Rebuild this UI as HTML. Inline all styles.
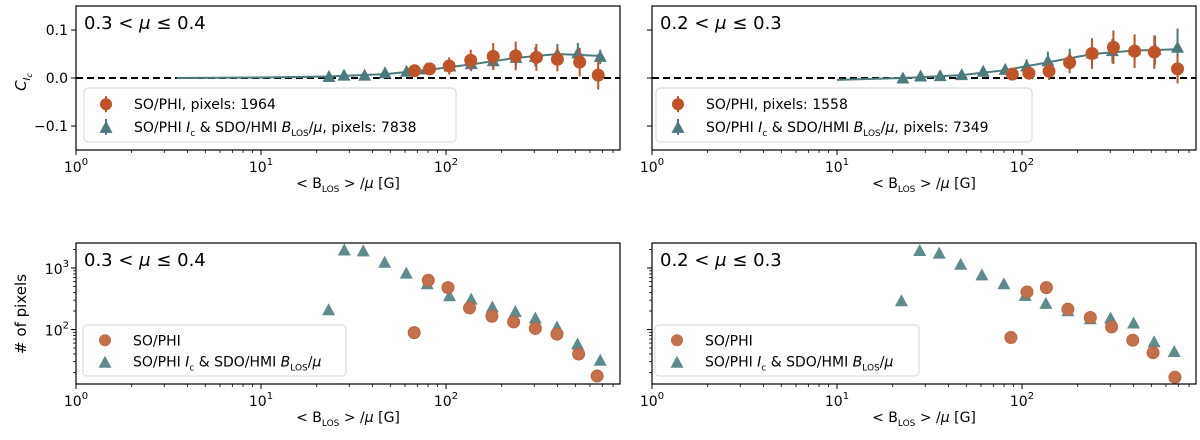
<!DOCTYPE html>
<html><head><meta charset="utf-8"><style>
body{margin:0;background:#fff;font-family:"Liberation Sans","DejaVu Sans",sans-serif}
svg text{font-family:"DejaVu Sans","Liberation Sans",sans-serif;fill:#000}
</style></head><body>
<svg id="fig" width="1200" height="435" xmlns="http://www.w3.org/2000/svg"></svg>
<script>
const tlTriX=[23.3,28.1,36.3,46.8,61.2,78.3,105,137,180,239,304,400,516,682];
const tlTriY=[0.002,0.005,0.005,0.010,0.013,0.018,0.024,0.029,0.035,0.042,0.044,0.049,0.051,0.044];
const tlTriE=[0.004,0.005,0.006,0.006,0.008,0.010,0.012,0.015,0.018,0.020,0.020,0.022,0.022,0.015];
const tlCirX=[67.6,81.5,104,136,180,238,308,400,528,665];
const tlCirY=[0.015,0.019,0.025,0.037,0.045,0.046,0.043,0.039,0.033,0.006];
const tlCirE=[0.008,0.012,0.018,0.022,0.028,0.03,0.028,0.025,0.03,0.03];
const tlLineX=[3.5,10,23,47,80,140,240,400,680];
const tlLineY=[0.000,0.001,0.003,0.008,0.017,0.029,0.042,0.050,0.046];

const trTriX=[22.7,28.3,36.1,47.2,61.7,81.1,106,138,181,239,308,406,524,693];
const trTriY=[-0.001,0.003,0.004,0.006,0.013,0.017,0.024,0.035,0.039,0.051,0.056,0.058,0.058,0.063];
const trTriE=[0.004,0.005,0.005,0.006,0.008,0.010,0.015,0.020,0.022,0.025,0.025,0.025,0.03,0.04];
const trCirX=[88.7,109,140,181,239,312,406,519,693];
const trCirY=[0.008,0.010,0.014,0.032,0.051,0.064,0.056,0.054,0.019];
const trCirE=[0.008,0.012,0.018,0.022,0.032,0.035,0.035,0.035,0.03];
const trLineX=[10,23,47,80,140,240,400,690];
const trLineY=[-0.004,0.0,0.006,0.016,0.033,0.050,0.057,0.060];

const blTriX=[23.2,28.2,35.7,46.6,61.0,79.1,104.5,136.8,178,237,304,398,514,682];
const blTriY=[206,1930,1860,1220,810,543,348,306,228,193,151,108,57,31];
const blCirX=[67.3,80.2,102.5,134,177,232,304,398,521,656];
const blCirY=[89,631,480,224,164,133,104,84,40,17.5];

const brTriX=[22.3,28.0,35.7,46.6,60.7,79.8,104,134.6,177,234,301,401,518,665];
const brTriY=[288,1890,1710,1130,760,543,351,261,198,147,151,125,62,43];
const brCirX=[87.1,106.4,135.5,177,234,305,397,511,671];
const brCirY=[74,408,480,214,157,110,67,42,16.7];

const NS="http://www.w3.org/2000/svg";
const svg=document.getElementById('fig');
function el(tag,attrs,parent){const e=document.createElementNS(NS,tag);for(const k in attrs)e.setAttribute(k,attrs[k]);(parent||svg).appendChild(e);return e;}
function txt(x,y,s,size,anchor,parent,name){const t=el('text',{x:x,y:y,'font-size':size,'text-anchor':anchor||'middle'},parent);t.innerHTML=s;


return t;}

const OR='#bf5428', TE='#4b7a7f', ORl='#c4704a', TEl='#5e8b8f';
const DEC=185;

function panel(id,left,top,bottom,opts){
  const g=el('g',{});
  
  
  const right=left+544;
  const xs=v=>left+Math.log10(v)*DEC;
  let ys;
  if(opts.log){ ys=v=>opts.y3+(3-Math.log10(v))*61.5; }
  else { ys=v=>opts.y0-v*480; }
  for(let d=0;d<3;d++){
    const X=left+d*DEC;
    el('line',{x1:X,y1:bottom,x2:X,y2:bottom+5,stroke:'#000','stroke-width':1},g);
    txt(X,bottom+22,'10<tspan dy="-7" font-size="10">'+d+'</tspan>',14,'middle',g,'x-tick-label');
    for(let m=2;m<=9;m++){const Xm=X+Math.log10(m)*DEC; if(Xm<right) el('line',{x1:Xm,y1:bottom,x2:Xm,y2:bottom+3,stroke:'#000','stroke-width':0.8},g);}
  }
  txt((left+right)/2,bottom+38,'&lt; B<tspan font-size="9" dy="4">LOS</tspan><tspan dy="-4"> &gt; /</tspan><tspan font-style="italic">μ</tspan> [G]',14,'middle',g,'x-axis-title');
  if(opts.log){
    [2,3].forEach(p=>{const Y=ys(Math.pow(10,p));el('line',{x1:left-5,y1:Y,x2:left,y2:Y,stroke:'#000'},g);
      if(opts.ylabels) txt(left-7,Y+6,'10<tspan dy="-7" font-size="10">'+p+'</tspan>',14,'end',g,'y-tick-label');});
    [1,2,3].forEach(p=>{for(let m=2;m<=9;m++){const Y=ys(m*Math.pow(10,p)); if(Y>top&&Y<bottom) el('line',{x1:left-3,y1:Y,x2:left,y2:Y,stroke:'#000','stroke-width':0.8},g);}});
  } else {
    [0.1,0,-0.1].forEach(v=>{const Y=ys(v);el('line',{x1:left-5,y1:Y,x2:left,y2:Y,stroke:'#000'},g);
      if(opts.ylabels) txt(left-8,Y+5,v===0?'0.0':(v>0?'0.1':'−0.1'),14,'end',g,'y-tick-label');});
    const z=el('line',{x1:left,y1:ys(0),x2:right,y2:ys(0),stroke:'#000','stroke-width':2,'stroke-dasharray':'7,4'},g);
    
    
  }
  if(opts.lineX){
    const pts=opts.lineX.map((x,i)=>xs(x)+','+ys(opts.lineY[i])).join(' ');
    const pl=el('polyline',{points:pts,fill:'none',stroke:TE,'stroke-width':2},g);
    
    
  }
  const tri=(cx,cy,c,parent)=>el('path',{d:`M${cx},${cy-7} L${cx+6.5},${cy+5} L${cx-6.5},${cy+5} Z`,fill:c},parent);
  opts.triX.forEach((x,i)=>{
    const cx=xs(x),cy=ys(opts.triY[i]);
    if(opts.triE){const e=el('line',{x1:cx,y1:ys(opts.triY[i]+opts.triE[i]),x2:cx,y2:ys(opts.triY[i]-opts.triE[i]),stroke:TE,'stroke-width':2},g);
      
      }
    const t=tri(cx,cy,opts.log?TEl:TE,g);
    
    
  });
  opts.cirX.forEach((x,i)=>{
    const cx=xs(x),cy=ys(opts.cirY[i]);
    if(opts.cirE){const e=el('line',{x1:cx,y1:ys(opts.cirY[i]+opts.cirE[i]),x2:cx,y2:ys(opts.cirY[i]-opts.cirE[i]),stroke:OR,'stroke-width':2},g);
      
      }
    const c=el('circle',{cx:cx,cy:cy,r:opts.log?6:6.5,fill:opts.log?ORl:OR,stroke:opts.log?'#b9653f':'none','stroke-width':1},g);
    
    
  });
  el('rect',{x:left,y:top,width:right-left,height:bottom-top,fill:'none',stroke:'#000','stroke-width':1.2},g);
  txt(left+8,top+23,opts.title,18,'start',g,'panel-title');
  const L=opts.leg;
  const lg=el('g',{},g);
  
  
  el('rect',{x:L.x,y:L.y,width:L.w,height:L.h,rx:4,fill:'rgba(255,255,255,0.85)',stroke:'#d6d6d6'},lg);
  const r1=L.y+L.h*0.3, r2=L.y+L.h*0.72;
  if(!opts.log){el('line',{x1:L.x+22,y1:r1-8,x2:L.x+22,y2:r1+8,stroke:OR,'stroke-width':2},lg);el('line',{x1:L.x+22,y1:r2-8,x2:L.x+22,y2:r2+8,stroke:TE,'stroke-width':2},lg);}
  el('circle',{cx:L.x+22,cy:r1,r:6,fill:opts.log?ORl:OR},lg);
  tri(L.x+22,r2+1,opts.log?TEl:TE,lg);
  txt(L.x+50,r1+5,L.t1,14,'start',lg,'legend-entry-phi');
  txt(L.x+50,r2+5,L.t2,14,'start',lg,'legend-entry-sdo');
}
const s2='SO/PHI <tspan font-style="italic">I</tspan><tspan font-size="9" dy="4">c</tspan><tspan dy="-4"> &amp; SDO/HMI </tspan><tspan font-style="italic">B</tspan><tspan font-size="9" dy="4">LOS</tspan><tspan dy="-4">/</tspan><tspan font-style="italic">μ</tspan>';
panel('panel-top-left',76,6,150,{y0:78,ylabels:true,title:'0.3 &lt; <tspan font-style="italic">μ</tspan> ≤  0.4',
  triX:tlTriX,triY:tlTriY,triE:tlTriE,cirX:tlCirX,cirY:tlCirY,cirE:tlCirE,lineX:tlLineX,lineY:tlLineY,
  leg:{x:84,y:88,w:372,h:54,t1:'SO/PHI, pixels: 1964',t2:s2+'<tspan>, pixels: 7838</tspan>'}});
panel('panel-top-right',652,6,150,{y0:78,ylabels:false,title:'0.2 &lt; <tspan font-style="italic">μ</tspan> ≤  0.3',
  triX:trTriX,triY:trTriY,triE:trTriE,cirX:trCirX,cirY:trCirY,cirE:trCirE,lineX:trLineX,lineY:trLineY,
  leg:{x:656,y:88,w:376,h:54,t1:'SO/PHI, pixels: 1558',t2:s2+'<tspan>, pixels: 7349</tspan>'}});
panel('panel-bottom-left',76,243,384,{log:true,y3:268,ylabels:true,title:'0.3 &lt; <tspan font-style="italic">μ</tspan> ≤  0.4',
  triX:blTriX,triY:blTriY,cirX:blCirX,cirY:blCirY,
  leg:{x:83,y:325,w:263,h:51,t1:'SO/PHI',t2:s2}});
panel('panel-bottom-right',652,243,384,{log:true,y3:268,ylabels:false,title:'0.2 &lt; <tspan font-style="italic">μ</tspan> ≤  0.3',
  triX:brTriX,triY:brTriY,cirX:brCirX,cirY:brCirY,
  leg:{x:655,y:325,w:264,h:51,t1:'SO/PHI',t2:s2}});
const yt1=txt(0,0,'C<tspan font-size="10" dy="4" font-style="italic">I</tspan><tspan font-size="8" dy="2" font-style="italic">c</tspan>',15,'middle',svg,'y-axis-title-top');
yt1.setAttribute('transform','translate(26,82) rotate(-90)');
yt1.setAttribute('font-style','italic');
const yt2=txt(0,0,'# of pixels',15,'middle',svg,'y-axis-title-bottom');
yt2.setAttribute('transform','translate(26,314) rotate(-90)');
</script>
</body></html>
